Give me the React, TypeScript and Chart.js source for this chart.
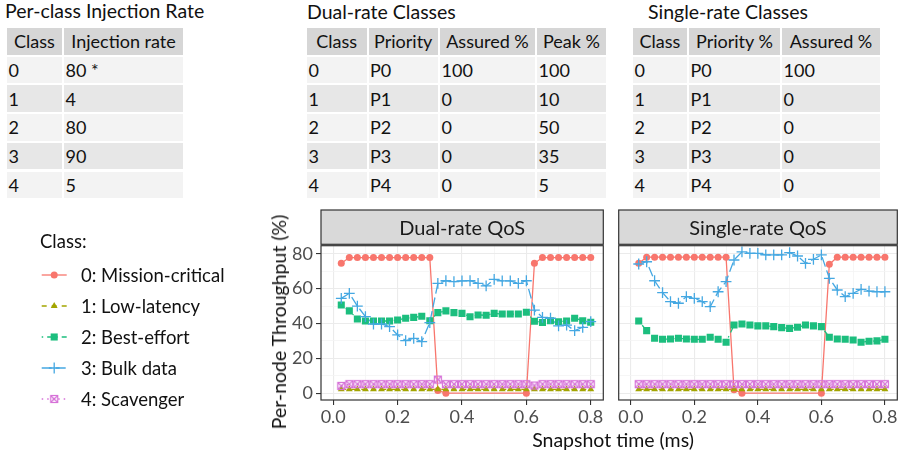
import React, { useEffect, useRef } from "react";
import { Chart, registerables } from "chart.js";
Chart.register(...registerables);

const FONT = "Lato, 'DejaVu Sans', sans-serif";

// ---------------- data ----------------
const SNAPSHOT_TIMES = [0.025, 0.05, 0.075, 0.1, 0.125, 0.15, 0.175, 0.2, 0.225, 0.25, 0.275, 0.3, 0.325, 0.35, 0.375, 0.4, 0.425, 0.45, 0.475, 0.5, 0.525, 0.55, 0.575, 0.6, 0.625, 0.65, 0.675, 0.7, 0.725, 0.75, 0.775, 0.8];

const CLASS_NAMES = ["0: Mission-critical", "1: Low-latency", "2: Best-effort", "3: Bulk data", "4: Scavenger"];

// Dual-rate QoS panel
const DUAL_C0 = [74.5, 77.8, 77.8, 77.8, 77.8, 77.8, 77.8, 77.8, 77.8, 77.8, 77.8, 77.8, 1.5, 0, null, null, null, null, null, null, null, null, null, 0, 74.5, 77.8, 77.8, 77.8, 77.8, 77.8, 77.8, 77.8];
const DUAL_C1 = [2.2, 2.2, 2.2, 2.2, 2.2, 2.2, 2.2, 2.2, 2.2, 2.2, 2.2, 2.2, 2.2, 2.2, 2.2, 2.2, 2.2, 2.2, 2.2, 2.2, 2.2, 2.2, 2.2, 2.2, 2.2, 2.2, 2.2, 2.2, 2.2, 2.2, 2.2, 2.2];
const DUAL_C2 = [50.6, 47.2, 42.6, 41.4, 41.4, 41.4, 41.4, 42.0, 43.0, 43.5, 44.1, 41.6, 46.2, 47.2, 46.2, 45.8, 43.9, 44.9, 44.7, 45.8, 45.4, 45.4, 45.4, 46.4, 41.3, 40.5, 41.6, 41.0, 41.4, 43.0, 41.6, 40.7];
const DUAL_C3 = [54.4, 57.3, 50.0, 43.9, 39.7, 39.7, 38.2, 33.4, 30.2, 31.5, 29.6, 40.5, 63.0, 64.5, 64.0, 64.4, 64.5, 63.0, 61.5, 65.3, 64.4, 64.4, 63.0, 64.5, 47.7, 43.5, 43.0, 38.6, 39.1, 35.9, 37.8, 41.0];
const DUAL_C4 = [4.2, 5.2, 5.2, 5.2, 5.2, 5.2, 5.2, 5.2, 5.2, 5.2, 5.2, 5.2, 7.8, 5.2, 5.2, 5.2, 5.2, 5.2, 5.2, 5.2, 5.2, 5.2, 5.2, 5.2, 4.4, 5.2, 5.2, 5.2, 5.2, 5.2, 5.2, 5.2];

// Single-rate QoS panel
const SINGLE_C0 = [74.5, 78, 78, 78, 78, 78, 78, 78, 78, 78, 78, 78, 2.0, 0, null, null, null, null, null, null, null, null, null, 0, 73.9, 78, 78, 78, 78, 78, 78, 78];
const SINGLE_C1 = [2.2, 2.2, 2.2, 2.2, 2.2, 2.2, 2.2, 2.2, 2.2, 2.2, 2.2, 2.2, 2.2, 2.2, 2.2, 2.2, 2.2, 2.2, 2.2, 2.2, 2.2, 2.2, 2.2, 2.2, 2.2, 2.2, 2.2, 2.2, 2.2, 2.2, 2.2, 2.2];
const SINGLE_C2 = [41.4, 35.9, 31.5, 30.9, 31.1, 31.5, 31.1, 30.9, 30.9, 32.1, 30.9, 29.2, 39.1, 39.7, 39.1, 38.6, 38.6, 38.2, 37.6, 37.2, 37.8, 39.1, 38.6, 38.2, 32.1, 31.1, 30.9, 30.5, 29.2, 29.8, 30.0, 30.9];
const SINGLE_C3 = [74.1, 75.4, 64.5, 57.7, 52.5, 51.6, 55.4, 54.4, 52.5, 49.6, 58.2, 64.0, 76.4, 81.1, 80.2, 80.2, 79.3, 79.3, 79.3, 80.6, 78.7, 74.5, 76.8, 79.3, 65.9, 59.2, 55.4, 57.3, 59.6, 58.6, 58.2, 58.2];
const SINGLE_C4 = [5.2, 5.2, 5.2, 5.2, 5.2, 5.2, 5.2, 5.2, 5.2, 5.2, 5.2, 5.2, 5.2, 5.2, 5.2, 5.2, 5.2, 5.2, 5.2, 5.2, 5.2, 5.2, 5.2, 5.2, 5.2, 5.2, 5.2, 5.2, 5.2, 5.2, 5.2, 5.2];

const X_MAJOR = [0, 0.2, 0.4, 0.6, 0.8];
const X_MINOR = [0.1, 0.3, 0.5, 0.7];
const Y_MAJOR = [0, 20, 40, 60, 80];
const Y_MINOR = [10, 30, 50, 70];

// tables
const INJ_HEADER = ["Class", "Injection rate"];
const INJ_CLASS = ["0", "1", "2", "3", "4"];
const INJ_RATE = ["80 *", "4", "80", "90", "5"];

const DUAL_HEADER = ["Class", "Priority", "Assured %", "Peak %"];
const DUAL_CLASS = ["0", "1", "2", "3", "4"];
const DUAL_PRIORITY = ["P0", "P1", "P2", "P3", "P4"];
const DUAL_ASSURED = ["100", "0", "0", "0", "0"];
const DUAL_PEAK = ["100", "10", "50", "35", "5"];

const SINGLE_HEADER = ["Class", "Priority %", "Assured %"];
const SINGLE_CLASS = ["0", "1", "2", "3", "4"];
const SINGLE_PRIORITY = ["P0", "P1", "P2", "P3", "P4"];
const SINGLE_ASSURED = ["100", "0", "0", "0", "0"];

// ---------------- styles ----------------
const COLORS = ["#F8766D", "#A3A500", "#1CBE7E", "#45A8E2", "#D672D8"];
const DASHES: number[][] = [[], [5, 5], [1.5, 4, 5, 4], [10, 4], [1.5, 4]];
const LINE_W = 1.3;
const POINT_STYLES = ["circle", "triangle", "rect", "cross", "box"];
const POINT_RADII = [3.5, 4, 5, 5.4, 4];
const POINT_BW = [0, 0, 0, 1.3, 0];
const GRID_MAJOR = "#EBEBEB";
const GRID_MINOR = "#F4F4F4";
const X_MIN = -0.038, X_MAX = 0.839;
const Y_MIN = -3.9, Y_MAX = 84.6;

function crossBox(color: string) {
  const c = document.createElement("canvas");
  c.width = 10;
  c.height = 10;
  const g = c.getContext("2d")!;
  g.strokeStyle = color;
  g.lineWidth = 1.2;
  g.strokeRect(1.5, 1.5, 7, 7);
  g.beginPath();
  g.moveTo(1.5, 1.5);
  g.lineTo(8.5, 8.5);
  g.moveTo(8.5, 1.5);
  g.lineTo(1.5, 8.5);
  g.stroke();
  return c;
}

function drawMarker(ctx: CanvasRenderingContext2D, i: number, x: number, y: number, box: HTMLCanvasElement) {
  const r = POINT_RADII[i];
  ctx.save();
  ctx.fillStyle = COLORS[i];
  ctx.strokeStyle = COLORS[i];
  ctx.setLineDash([]);
  if (i === 0) {
    ctx.beginPath();
    ctx.arc(x, y, r, 0, Math.PI * 2);
    ctx.fill();
  } else if (i === 1) {
    ctx.beginPath();
    ctx.moveTo(x, y - r);
    ctx.lineTo(x + r * Math.sin((2 * Math.PI) / 3), y + r / 2);
    ctx.lineTo(x - r * Math.sin((2 * Math.PI) / 3), y + r / 2);
    ctx.closePath();
    ctx.fill();
  } else if (i === 2) {
    const s = r * Math.SQRT1_2;
    ctx.fillRect(x - s, y - s, 2 * s, 2 * s);
  } else if (i === 3) {
    ctx.lineWidth = POINT_BW[3];
    ctx.beginPath();
    ctx.moveTo(x - r, y);
    ctx.lineTo(x + r, y);
    ctx.moveTo(x, y - r);
    ctx.lineTo(x, y + r);
    ctx.stroke();
  } else {
    ctx.drawImage(box, x - box.width / 2, y - box.height / 2);
  }
  ctx.restore();
}

function panelPlugin(title: string) {
  return {
    id: "panelDecor",
    afterDatasetsDraw(chart: any) {
      const { ctx, chartArea: a } = chart;
      ctx.save();
      ctx.strokeStyle = "#333333";
      ctx.lineWidth = 1.2;
      ctx.strokeRect(a.left, a.top, a.right - a.left, a.bottom - a.top);
      const sTop = a.top - 35.7;
      const sBot = a.top - 1.4;
      ctx.fillStyle = "#D9D9D9";
      ctx.fillRect(a.left, sTop, a.right - a.left, sBot - sTop);
      ctx.strokeRect(a.left, sTop, a.right - a.left, sBot - sTop);
      ctx.fillStyle = "#1A1A1A";
      ctx.font = `20px ${FONT}`;
      ctx.textAlign = "center";
      ctx.textBaseline = "middle";
      ctx.fillText(title, (a.left + a.right) / 2, (sTop + sBot) / 2 + 1);
      ctx.restore();
    },
  };
}

function legendPlugin(box: HTMLCanvasElement) {
  return {
    id: "classLegend",
    afterDraw(chart: any) {
      const ctx: CanvasRenderingContext2D = chart.ctx;
      ctx.save();
      ctx.fillStyle = "#111";
      ctx.font = `18.5px ${FONT}`;
      ctx.textAlign = "left";
      ctx.textBaseline = "alphabetic";
      ctx.fillText("Class:", 40, 43);
      CLASS_NAMES.forEach((name, i) => {
        const cy = 70 + 31 * i;
        ctx.save();
        ctx.strokeStyle = COLORS[i];
        ctx.lineWidth = LINE_W;
        ctx.setLineDash(DASHES[i]);
        ctx.beginPath();
        ctx.moveTo(41.7, cy);
        ctx.lineTo(66.7, cy);
        ctx.stroke();
        ctx.restore();
        drawMarker(ctx, i, 54.2, cy, box);
        ctx.fillStyle = "#111";
        ctx.textBaseline = "middle";
        ctx.fillText(name, 81, cy + 1);
      });
      ctx.restore();
    },
  };
}

function makeConfig(series: (number | null)[][], title: string, isLeft: boolean, box: HTMLCanvasElement): any {
  const datasets: any[] = [];
  series.forEach((vals, i) => {
    const data = SNAPSHOT_TIMES.map((t, k) => ({ x: t, y: vals[k] }));
    datasets.push({
      label: CLASS_NAMES[i] + " line",
      data,
      borderColor: COLORS[i],
      borderWidth: LINE_W,
      borderDash: DASHES[i],
      pointRadius: 0,
      pointHoverRadius: 0,
      spanGaps: true,
      fill: false,
      tension: 0,
      order: 20 - i,
    });
    datasets.push({
      label: CLASS_NAMES[i],
      data,
      showLine: false,
      pointStyle: i === 4 ? box : POINT_STYLES[i],
      pointRadius: POINT_RADII[i],
      pointHoverRadius: POINT_RADII[i],
      pointBackgroundColor: COLORS[i],
      pointBorderColor: COLORS[i],
      pointBorderWidth: POINT_BW[i],
      order: 10 - i,
    });
  });
  const tickFont = { size: 18, family: FONT };
  const leftPad = isLeft ? 270 : 0;
  return {
    type: "line",
    data: { datasets },
    options: {
      responsive: false,
      animation: false,
      events: [],
      layout: { padding: { left: leftPad, right: isLeft ? 4 : 3, top: 40.7, bottom: 0 } },
      plugins: { legend: { display: false }, tooltip: { enabled: false } },
      scales: {
        x: {
          type: "linear",
          min: X_MIN,
          max: X_MAX,
          bounds: "data",
          afterBuildTicks: (s: any) => {
            s.ticks = [...X_MAJOR, ...X_MINOR].sort((a, b) => a - b).map((v) => ({ value: v }));
          },
          afterFit: (s: any) => {
            s.height = 57;
          },
          border: { display: false },
          grid: {
            color: (c: any) => (X_MAJOR.includes(c.tick?.value) ? GRID_MAJOR : GRID_MINOR),
            lineWidth: (c: any) => (X_MAJOR.includes(c.tick?.value) ? 1.1 : 0.8),
            tickColor: (c: any) => (X_MAJOR.includes(c.tick?.value) ? "#333333" : "rgba(0,0,0,0)"),
            tickLength: 5,
          },
          ticks: {
            autoSkip: false,
            maxRotation: 0,
            minRotation: 0,
            padding: 1,
            color: "#4D4D4D",
            font: tickFont,
            callback: (v: number) => (X_MAJOR.includes(v) ? v.toFixed(1) : ""),
          },
        },
        y: {
          type: "linear",
          min: Y_MIN,
          max: Y_MAX,
          bounds: "data",
          afterBuildTicks: (s: any) => {
            s.ticks = [...Y_MAJOR, ...Y_MINOR].sort((a, b) => a - b).map((v) => ({ value: v }));
          },
          afterFit: (s: any) => {
            s.width = isLeft ? 321 - leftPad : 4;
          },
          border: { display: false },
          grid: {
            color: (c: any) => (Y_MAJOR.includes(c.tick?.value) ? GRID_MAJOR : GRID_MINOR),
            lineWidth: (c: any) => (Y_MAJOR.includes(c.tick?.value) ? 1.1 : 0.8),
            tickColor: (c: any) => (Y_MAJOR.includes(c.tick?.value) ? "#333333" : "rgba(0,0,0,0)"),
            tickLength: 5,
            drawTicks: isLeft,
          },
          ticks: {
            display: isLeft,
            autoSkip: false,
            padding: 3,
            color: "#4D4D4D",
            font: tickFont,
            callback: (v: number) => (Y_MAJOR.includes(v) ? String(v) : ""),
          },
        },
      },
    },
    plugins: isLeft ? [panelPlugin(title), legendPlugin(box)] : [panelPlugin(title)],
  };
}

const ROW_H = 28.7;

function GridTable({ left, top, widths, header, columns }: { left: number; top: number; widths: number[]; header: string[]; columns: string[][] }) {
  const cells: any[] = [];
  const xs: number[] = [];
  let acc = 0;
  widths.forEach((w) => {
    xs.push(acc);
    acc += w;
  });
  header.forEach((h, j) => {
    cells.push(
      <div key={`h${j}`} style={{ position: "absolute", left: xs[j], top: 0, width: widths[j], height: ROW_H, boxSizing: "border-box", border: "1px solid #fff", background: "#D6D6D6", display: "flex", alignItems: "center", justifyContent: "center", whiteSpace: "nowrap" }}>
        {h}
      </div>
    );
  });
  const nRows = columns[0].length;
  for (let r = 0; r < nRows; r++) {
    columns.forEach((col, j) => {
      cells.push(
        <div key={`c${r}_${j}`} style={{ position: "absolute", left: xs[j], top: (r + 1) * ROW_H, width: widths[j], height: ROW_H, boxSizing: "border-box", border: "1px solid #fff", background: r % 2 === 0 ? "#F3F3F3" : "#E7E7E7", display: "flex", alignItems: "center", justifyContent: "flex-start", paddingLeft: 1.5, whiteSpace: "nowrap" }}>
          {col[r]}
        </div>
      );
    });
  }
  return <div style={{ position: "absolute", left, top, fontSize: 18, color: "#111", lineHeight: "20px" }}>{cells}</div>;
}

export default function App() {
  const leftRef = useRef<HTMLCanvasElement>(null);
  const rightRef = useRef<HTMLCanvasElement>(null);

  useEffect(() => {
    Chart.defaults.font.family = FONT;
    const box = crossBox(COLORS[4]);
    const c1 = new Chart(leftRef.current!, makeConfig([DUAL_C0, DUAL_C1, DUAL_C2, DUAL_C3, DUAL_C4], "Dual-rate QoS", true, box));
    const c2 = new Chart(rightRef.current!, makeConfig([SINGLE_C0, SINGLE_C1, SINGLE_C2, SINGLE_C3, SINGLE_C4], "Single-rate QoS", false, box));
    return () => {
      c1.destroy();
      c2.destroy();
    };
  }, []);

  const titleStyle: any = { position: "absolute", fontSize: 19.5, color: "#111", lineHeight: "24px", whiteSpace: "nowrap" };

  return (
    <div style={{ position: "absolute", left: 0, top: 0, width: 904, height: 457, background: "#fff", fontFamily: FONT, overflow: "hidden" }}>
      <div style={{ ...titleStyle, left: 5, top: -1.5 }}>Per-class Injection Rate</div>
      <div style={{ ...titleStyle, left: 307, top: 0 }}>Dual-rate Classes</div>
      <div style={{ ...titleStyle, left: 648, top: 0 }}>Single-rate Classes</div>
      <GridTable left={6} top={27} widths={[57, 121]} header={INJ_HEADER} columns={[INJ_CLASS, INJ_RATE]} />
      <GridTable left={306} top={27} widths={[61.5, 71.5, 97, 71]} header={DUAL_HEADER} columns={[DUAL_CLASS, DUAL_PRIORITY, DUAL_ASSURED, DUAL_PEAK]} />
      <GridTable left={632} top={27} widths={[56, 93, 100]} header={SINGLE_HEADER} columns={[SINGLE_CLASS, SINGLE_PRIORITY, SINGLE_ASSURED]} />
      <canvas ref={leftRef} width={610} height={252} style={{ position: "absolute", left: 0, top: 205, width: 610, height: 252 }} />
      <canvas ref={rightRef} width={292} height={252} style={{ position: "absolute", left: 612, top: 205, width: 292, height: 252 }} />
      <div style={{ position: "absolute", left: 279, top: 322, transform: "translate(-50%, -50%) rotate(-90deg)", fontSize: 19.5, color: "#111", whiteSpace: "nowrap", lineHeight: "24px" }}>Per-node Throughput (%)</div>
      <div style={{ position: "absolute", left: 613, top: 428, transform: "translateX(-50%)", fontSize: 19.5, color: "#111", whiteSpace: "nowrap", lineHeight: "24px" }}>Snapshot time (ms)</div>
    </div>
  );
}
